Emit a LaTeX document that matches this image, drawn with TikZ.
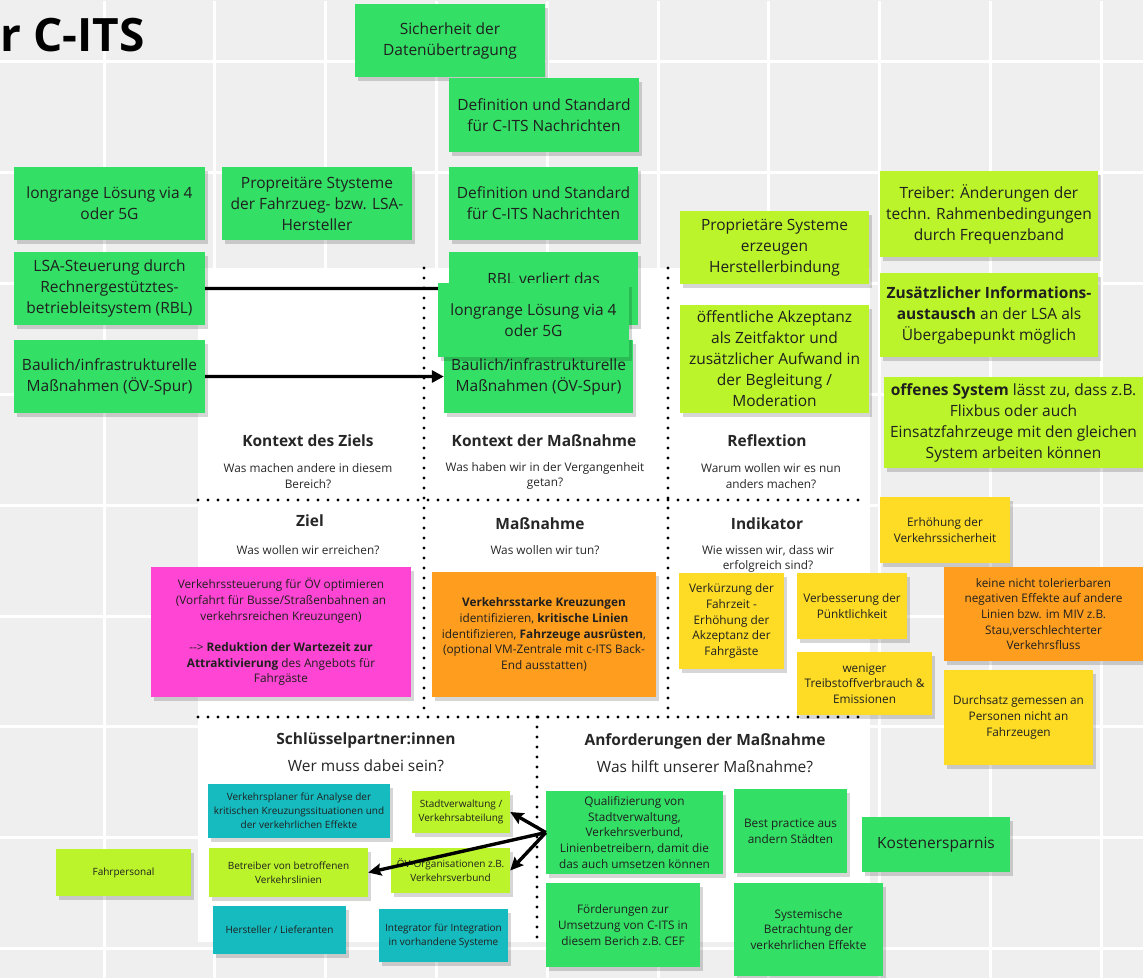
\documentclass[tikz,border=0pt]{standalone}
\usepackage{fontspec}
\setmainfont{Open Sans}
\usetikzlibrary{arrows.meta,shadows}

\definecolor{miroGray}{HTML}{EFEFEF}
\definecolor{noteGreen}{HTML}{33E065}
\definecolor{noteLime}{HTML}{BBF42A}
\definecolor{noteYellow}{HTML}{FEDC26}
\definecolor{noteOrange}{HTML}{FF9E1E}
\definecolor{noteMagenta}{HTML}{FF45D3}
\definecolor{noteTeal}{HTML}{16BBBF}

\newcommand{\fbig}{\fontsize{15.5}{21}\selectfont}
\newcommand{\fmid}{\fontsize{11.8}{15.7}\selectfont}
\newcommand{\fsml}{\fontsize{10}{14}\selectfont}
\newcommand{\fhead}{\fontsize{15.5}{21}\selectfont\bfseries}
\newcommand{\ftitle}{\fontsize{46}{52}\selectfont\bfseries}

\begin{document}
\begin{tikzpicture}[scale=0.35146]
        \tikzstyle{every node}+=[inner sep=0pt]
        \tikzstyle{note}=[rectangle, align=center, text=black!88, drop shadow={shadow xshift=3pt, shadow yshift=-4pt, opacity=0.16, fill=black}]
        \tikzstyle{board text}=[align=center, text=black!85]
        \tikzstyle{dots}=[line width=3.3pt, line cap=round, dash pattern=on 0pt off 10pt]
        \tikzstyle{link}=[line width=3.4pt, -{Stealth[length=13pt, width=12pt, inset=2pt]}]
        \useasboundingbox (0,0) rectangle (114.3,-97.8);
        % canvas
        \fill [miroGray] (0,0) rectangle (114.3,-97.8);
        \draw [white, line width=3pt, step=11.08, shift={(10.4,-6.2)}] (-11,-92.6) grid (104.9,6.1);
        \fill [white] (19.8,-26.8) rectangle (87.0,-94.2);
        \draw [dots] (42.4,-26.8) -- (42.4,-71.7);
        \draw [dots] (66.8,-26.8) -- (66.8,-71.7);
        \draw [dots] (19.8,-50.0) -- (86.6,-50.0);
        \draw [dots] (19.8,-71.7) -- (86.6,-71.7);
        \draw [dots] (53.7,-71.7) -- (53.7,-94.1);
        \node [anchor=base east, font=\ftitle] (title) at (14.5,-5.2) {r C-ITS};
        % headings
        \node [board text, font=\fhead] (kontextZiel) at (30.8,-44.1) {Kontext des Ziels};
        \node [board text, font=\fmid] (kontextZielQ) at (30.8,-47.6) {Was machen andere in diesem\\Bereich?};
        \node [board text, font=\fhead] (kontextMass) at (54.4,-44.1) {Kontext der Maßnahme};
        \node [board text, font=\fmid] (kontextMassQ) at (54.5,-47.6) {Was haben wir in der Vergangenheit\\getan?};
        \node [board text, font=\fhead] (reflexion) at (76.7,-44.1) {Reflextion};
        \node [board text, font=\fmid] (reflexionQ) at (77.1,-47.6) {Warum wollen wir es nun\\anders machen?};
        \node [board text, font=\fhead] (ziel) at (31.0,-52.1) {Ziel};
        \node [board text, font=\fmid] (zielQ) at (30.8,-55.0) {Was wollen wir erreichen?};
        \node [board text, font=\fhead] (mass) at (54.0,-52.4) {Maßnahme};
        \node [board text, font=\fmid] (massQ) at (54.5,-55.0) {Was wollen wir tun?};
        \node [board text, font=\fhead] (indikator) at (76.7,-52.4) {Indikator};
        \node [board text, font=\fmid] (indikatorQ) at (76.8,-55.9) {Wie wissen wir, dass wir\\erfolgreich sind?};
        \node [board text, font=\fhead] (partner) at (36.6,-74.0) {Schlüsselpartner:innen};
        \node [board text, font=\fbig] (partnerQ) at (36.6,-76.6) {Wer muss dabei sein?};
        \node [board text, font=\fhead] (anford) at (70.5,-74.1) {Anforderungen der Maßnahme};
        \node [board text, font=\fbig] (anfordQ) at (70.5,-76.7) {Was hilft unserer Maßnahme?};
        % top notes
        \node [note, fill=noteGreen, font=\fbig, minimum width=190pt, minimum height=73pt] (sicherheit) at (45.0,-4.05) {Sicherheit der\\Datenübertragung};
        \node [note, fill=noteGreen, font=\fbig, minimum width=190pt, minimum height=74pt] (standardA) at (54.4,-11.5) {Definition und Standard\\für C-ITS Nachrichten};
        \node [note, fill=noteGreen, font=\fbig, minimum width=191pt, minimum height=73pt] (longrangeA) at (10.95,-20.35) {longrange Lösung via 4\\oder 5G};
        \node [note, fill=noteGreen, font=\fbig, minimum width=190pt, minimum height=73pt] (propr) at (31.7,-20.35) {Propreitäre Stysteme\\der Fahrzueg- bzw. LSA-\\Hersteller};
        \node [note, fill=noteGreen, font=\fbig, minimum width=189pt, minimum height=73pt] (standardB) at (54.35,-20.35) {Definition und Standard\\für C-ITS Nachrichten};
        \node [note, fill=noteGreen, font=\fbig, minimum width=191pt, minimum height=73pt] (lsa) at (10.95,-28.85) {LSA-Steuerung durch\\Rechnergestütztes-\\betriebleitsystem (RBL)};
        \node [note, fill=noteGreen, font=\fbig, minimum width=191pt, minimum height=73pt] (baulichA) at (10.95,-37.65) {Baulich/infrastrukturelle\\Maßnahmen (ÖV-Spur)};
        \node [note, fill=noteGreen, font=\fbig, minimum width=189pt, text height=33pt, text depth=40pt] (rbl) at (54.35,-28.85) {RBL verliert das};
        \node [note, fill=noteGreen, font=\fbig, minimum width=189pt, minimum height=73pt] (baulichB) at (53.85,-37.65) {Baulich/infrastrukturelle\\Maßnahmen (ÖV-Spur)};
        \draw [line width=3.4pt] (lsa) -- (rbl);
        \draw [link, -{Triangle[length=12pt, width=12pt]}] (baulichA) -- (baulichB);
        \node [note, fill=noteGreen, font=\fbig, minimum width=191pt, minimum height=74pt] (longrangeB) at (53.35,-32.0) {longrange Lösung via 4\\oder 5G};
        % right column
        \node [note, fill=noteLime, font=\fbig, minimum width=189pt, minimum height=73pt] (bindung) at (77.45,-24.75) {Proprietäre Systeme\\erzeugen\\Herstellerbindung};
        \node [note, fill=noteLime, font=\fbig, minimum width=189pt, minimum height=108pt] (akzeptanz) at (77.45,-35.9) {öffentliche Akzeptanz\\als Zeitfaktor und\\zusätzlicher Aufwand in\\der Begleitung /\\Moderation};
        \node [note, fill=noteLime, font=\fbig, minimum width=218pt, minimum height=86pt] (treiber) at (98.9,-21.4) {Treiber: Änderungen der\\techn. Rahmenbedingungen\\durch Frequenzband};
        \node [note, fill=noteLime, font=\fbig, minimum width=218pt, minimum height=84pt] (austausch) at (98.9,-31.5) {\textbf{Zusätzlicher Informations-}\\\textbf{austausch} an der LSA als\\Übergabepunkt möglich};
        \node [note, fill=noteLime, font=\fbig, minimum width=259pt, minimum height=91pt] (offen) at (101.35,-42.25) {\textbf{offenes System} lässt zu, dass z.B.\\Flixbus oder auch\\Einsatzfahrzeuge mit den gleichen\\System arbeiten können};
        % ziel, massnahme, indikator
        \node [note, fill=noteMagenta, font=\fmid, minimum width=260pt, minimum height=130pt] (zielNote) at (28.1,-63.2) {Verkehrssteuerung für ÖV optimieren\\(Vorfahrt für Busse/Straßenbahnen an\\verkehrsreichen Kreuzungen)\\[15.7pt]\mbox{-}\mbox{-}> \textbf{Reduktion der Wartezeit zur}\\\textbf{Attraktivierung} des Angebots für\\Fahrgäste};
        \node [note, fill=noteOrange, font=\fmid, minimum width=224pt, minimum height=125pt] (massNote) at (54.4,-63.45) {\textbf{Verkehrsstarke Kreuzungen}\\identifizieren, \textbf{kritische Linien}\\identifizieren, \textbf{Fahrzeuge ausrüsten},\\(optional VM-Zentrale mit c-ITS Back-\\End ausstatten)};
        \node [note, fill=noteYellow, font=\fmid, minimum width=105pt, minimum height=96pt] (fahrzeit) at (73.15,-62.1) {Verkürzung der\\Fahrzeit -\\Erhöhung der\\Akzeptanz der\\Fahrgäste};
        \node [note, fill=noteYellow, font=\fmid, minimum width=110pt, minimum height=66pt] (puenktlich) at (85.2,-60.6) {Verbesserung der\\Pünktlichkeit};
        \node [note, fill=noteYellow, font=\fmid, minimum width=135pt, minimum height=63pt] (treibstoff) at (86.45,-68.35) {weniger\\Treibstoffverbrauch \&\\Emissionen};
        \node [note, fill=noteYellow, font=\fmid, minimum width=130pt, minimum height=66pt] (sicherheitV) at (94.5,-53.0) {Erhöhung der\\Verkehrssicherheit};
        \node [note, fill=noteOrange, font=\fmid, minimum width=199pt, minimum height=94pt] (effekte) at (104.35,-61.4) {keine nicht tolerierbaren\\negativen Effekte auf andere\\Linien bzw. im MIV z.B.\\Stau,verschlechterter\\Verkehrsfluss};
        \node [note, fill=noteYellow, font=\fmid, minimum width=149pt, minimum height=95pt] (durchsatz) at (101.85,-71.75) {Durchsatz gemessen an\\Personen nicht an\\Fahrzeugen};
        % schluesselpartner
        \node [note, fill=noteTeal, font=\fsml, minimum width=182pt, minimum height=54pt] (planer) at (29.9,-81.1) {Verkehrsplaner für Analyse der\\kritischen Kreuzungssituationen und\\der verkehrlichen Effekte};
        \node [note, fill=noteLime, font=\fsml, minimum width=98pt, minimum height=42pt] (stadt) at (46.1,-81.2) {Stadtverwaltung /\\Verkehrsabteilung};
        \node [note, fill=noteLime, font=\fsml, minimum width=135pt, minimum height=47pt] (fahrpersonal) at (12.35,-87.25) {Fahrpersonal};
        \node [note, fill=noteLime, font=\fsml, minimum width=159pt, minimum height=49pt] (betreiber) at (28.85,-87.25) {Betreiber von betroffenen\\Verkehrslinien};
        \node [note, fill=noteLime, font=\fsml, minimum width=119pt, minimum height=45pt] (oev) at (45.05,-87.05) {ÖV-Organisationen z.B.\\Verkehrsverbund};
        \node [note, fill=noteTeal, font=\fsml, minimum width=133pt, minimum height=48pt] (hersteller) at (27.95,-93.0) {Hersteller / Lieferanten};
        \node [note, fill=noteTeal, font=\fsml, minimum width=129pt, minimum height=53pt] (integrator) at (44.35,-93.55) {Integrator für Integration\\in vorhandene Systeme};
        % anforderungen
        \node [note, fill=noteGreen, font=\fmid, minimum width=177pt, minimum height=83pt] (quali) at (63.45,-83.25) {Qualifizierung von\\Stadtverwaltung,\\Verkehrsverbund,\\Linienbetreibern, damit die\\das auch umsetzen können};
        \node [note, fill=noteGreen, font=\fmid, minimum width=113pt, minimum height=84pt] (practice) at (79.05,-83.1) {Best practice aus\\andern Städten};
        \node [note, fill=noteGreen, font=\fbig, minimum width=148pt, minimum height=55pt] (kosten) at (93.6,-84.45) {Kostenersparnis};
        \node [note, fill=noteGreen, font=\fmid, minimum width=154pt, minimum height=84pt] (foerder) at (62.3,-92.5) {Förderungen zur\\Umsetzung von C-ITS in\\diesem Berich z.B. CEF};
        \node [note, fill=noteGreen, font=\fmid, minimum width=149pt, minimum height=93pt] (systemisch) at (80.85,-92.95) {Systemische\\Betrachtung der\\verkehrlichen Effekte};
        \draw [link] (quali.west) -- (stadt.east);
        \draw [link] (quali.west) -- (oev.east);
        \draw [link] (quali.west) -- (betreiber.east);
\end{tikzpicture}
\end{document}
